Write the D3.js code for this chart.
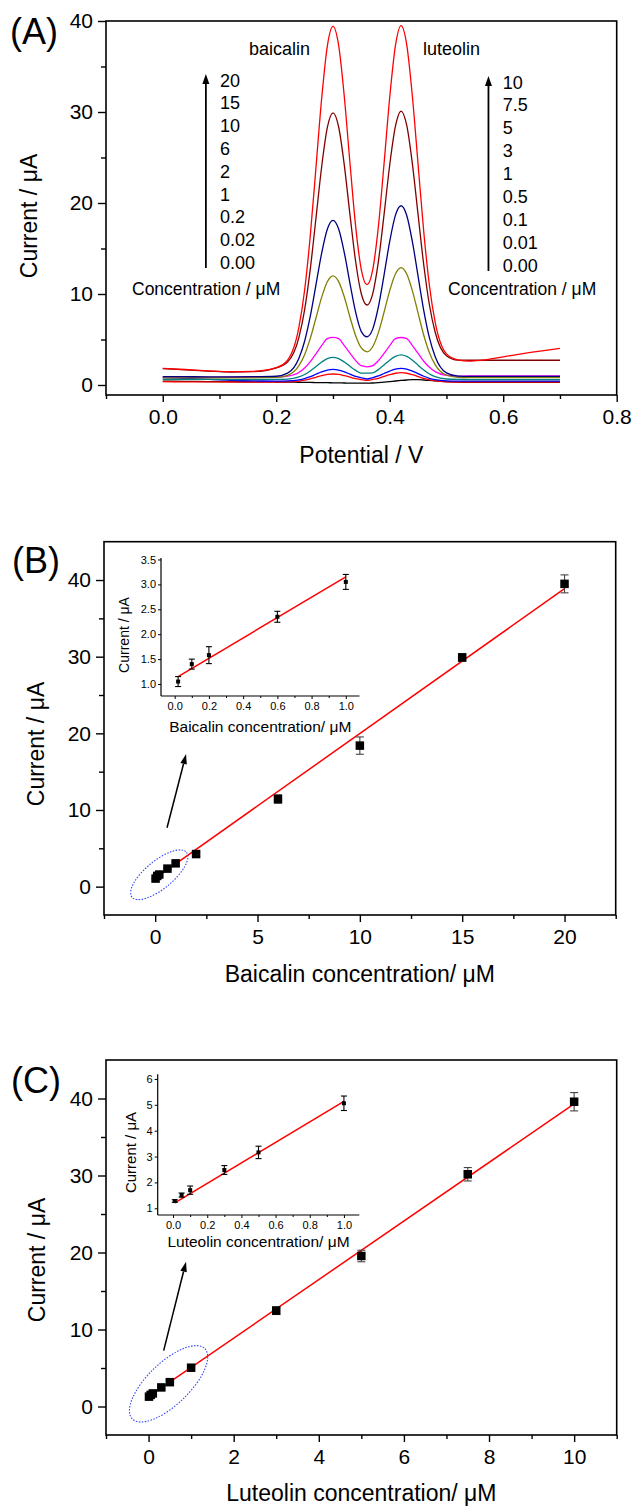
<!DOCTYPE html>
<html><head><meta charset="utf-8">
<script src="https://cdn.jsdelivr.net/npm/d3@7"></script>
<style>
body{margin:0;background:#fff}
text{font-family:"Liberation Sans",Arial,Helvetica,sans-serif;fill:#000}
</style></head>
<body><svg id="c" width="634" height="1507"></svg>
<script>
// ---------------- DATA ----------------
// Panel A: DPV curves (potential in V, current in µA)
const potential = [0.00,0.04,0.08,0.12,0.16,0.20,0.22,0.24,0.25,0.26,0.27,0.28,0.29,0.30,0.31,0.32,0.33,0.34,0.35,0.36,0.37,0.38,0.39,0.40,0.41,0.42,0.43,0.44,0.45,0.46,0.47,0.48,0.50,0.52,0.54,0.56,0.60,0.64,0.70];
const current_b000_l000 = [0.42,0.40,0.38,0.36,0.35,0.33,0.32,0.30,0.29,0.28,0.27,0.26,0.25,0.24,0.23,0.22,0.21,0.20,0.20,0.20,0.22,0.26,0.31,0.37,0.44,0.50,0.55,0.58,0.58,0.55,0.50,0.45,0.37,0.32,0.30,0.30,0.30,0.30,0.30];
const current_b002_l001 = [0.36,0.35,0.34,0.33,0.33,0.33,0.35,0.43,0.53,0.67,0.85,1.02,1.16,1.21,1.16,1.02,0.86,0.69,0.59,0.50,0.61,0.74,0.94,1.13,1.29,1.35,1.29,1.13,0.93,0.72,0.56,0.45,0.35,0.33,0.33,0.33,0.33,0.33,0.33];
const current_b02_l01 = [0.82,0.72,0.62,0.52,0.45,0.43,0.45,0.57,0.71,0.92,1.18,1.44,1.64,1.72,1.64,1.44,1.19,0.95,0.79,0.66,0.81,0.99,1.26,1.53,1.75,1.83,1.75,1.53,1.25,0.96,0.74,0.59,0.45,0.42,0.42,0.42,0.42,0.42,0.42];
const current_b1_l05 = [0.62,0.62,0.61,0.60,0.60,0.61,0.65,0.89,1.15,1.54,2.03,2.52,2.90,3.04,2.90,2.53,2.05,1.60,1.30,1.30,1.34,1.69,2.20,2.73,3.14,3.30,3.14,2.73,2.18,1.64,1.21,0.92,0.66,0.61,0.60,0.60,0.60,0.60,0.60];
const current_b2_l1 = [0.84,0.84,0.84,0.85,0.85,0.86,0.97,1.38,1.86,2.56,3.43,4.32,5.10,5.24,5.10,4.33,3.49,2.68,2.12,2.00,2.13,2.68,3.47,4.32,5.10,5.22,5.10,4.33,3.47,2.61,1.94,1.47,1.07,0.98,0.99,1.00,1.00,1.00,1.00];
const current_b6_l3 = [0.78,0.78,0.78,0.79,0.79,0.83,1.05,2.12,3.33,5.12,7.36,9.63,11.35,12.0,11.36,9.67,7.45,5.42,4.07,3.65,4.20,5.75,7.99,10.37,12.2,12.9,12.2,10.34,7.89,5.47,3.54,2.23,1.07,0.84,0.80,0.80,0.80,0.80,0.80];
const current_b10_l5 = [0.92,0.91,0.90,0.90,0.91,0.96,1.30,2.95,4.81,7.56,11.0,14.47,17.12,18.1,17.14,14.53,11.15,7.98,5.87,5.30,6.14,8.58,12.08,15.78,18.64,19.7,18.63,15.73,11.94,8.18,5.17,3.14,1.33,0.98,0.95,0.95,0.94,0.94,0.94];
const current_b15_l75 = [1.80,1.66,1.53,1.42,1.46,1.88,2.51,5.23,8.26,12.73,18.32,23.96,28.27,29.9,28.35,24.14,18.69,13.54,10.0,8.79,10.02,13.56,18.72,24.18,28.41,30.1,28.52,24.28,18.71,13.19,8.79,5.82,3.21,2.73,2.72,2.72,2.72,2.72,2.72];
const current_b20_l10 = [1.83,1.70,1.56,1.46,1.50,1.91,2.72,6.35,10.41,16.4,23.89,31.44,37.22,39.4,37.31,31.65,24.34,17.41,12.66,11.02,12.65,17.4,24.31,31.62,37.27,39.5,37.38,31.68,24.22,16.82,10.91,6.93,3.42,2.76,2.62,2.70,3.10,3.50,4.03];
const baicalinLevels = ["20","15","10","6","2","1","0.2","0.02","0.00"];
const luteolinLevels = ["10","7.5","5","3","1","0.5","0.1","0.01","0.00"];

// Panel B: baicalin calibration
const baicalinConc    = [0.02,0.1,0.2,0.6,1,2,6,10,15,20];
const baicalinCurrent = [1.05,1.40,1.58,2.35,3.04,4.25,11.43,18.4,29.9,39.5];
const baicalinError   = [0.10,0.10,0.17,0.11,0.15,0.30,0.55,1.13,0.50,1.17];
const baicalinFitX = [0,20];
const baicalinFitY = [1.08,38.88];
const baicalinInsetConc    = [0.02,0.1,0.2,0.6,1.0];
const baicalinInsetCurrent = [1.05,1.40,1.58,2.35,3.05];
const baicalinInsetError   = [0.10,0.10,0.17,0.11,0.15];
const baicalinInsetFitX = [0.02,1.0];
const baicalinInsetFitY = [1.15,3.15];

// Panel C: luteolin calibration
const luteolinConc    = [0.01,0.05,0.1,0.3,0.5,1,3,5,7.5,10];
const luteolinCurrent = [1.28,1.51,1.70,2.48,3.16,5.04,12.45,19.55,30.16,39.58];
const luteolinError   = [0.05,0.08,0.16,0.17,0.24,0.28,0.50,0.75,0.87,1.19];
const luteolinFitX = [0,10];
const luteolinFitY = [1.27,39.3];
const luteolinInsetConc    = [0.01,0.05,0.1,0.3,0.5,1.0];
const luteolinInsetCurrent = [1.28,1.51,1.70,2.48,3.16,5.06];
const luteolinInsetError   = [0.05,0.08,0.16,0.17,0.24,0.28];
const luteolinInsetFitX = [0.01,1.0];
const luteolinInsetFitY = [1.21,5.13];

// tick values
const aXMajor=[0,0.2,0.4,0.6,0.8], aXMinor=[-0.1,0.1,0.3,0.5,0.7];
const aYMajor=[0,10,20,30,40], aYMinor=[5,15,25,35];
const bXMajor=[0,5,10,15,20], bXMinor=[-2.5,2.5,7.5,12.5,17.5,22.5];
const cXMajor=[0,2,4,6,8,10], cXMinor=[-1,1,3,5,7,9,11];
const bcYMajor=[0,10,20,30,40], bcYMinor=[5,15,25,35];
const insXMajor=[0,0.2,0.4,0.6,0.8,1.0], insXMinor=[0.1,0.3,0.5,0.7,0.9];
const insBYMajor=[1.0,1.5,2.0,2.5,3.0,3.5];
const insCYMajor=[1,2,3,4,5,6];

// ---------------- DRAWING ----------------
const svg=d3.select("#c");
const curves=[current_b000_l000,current_b002_l001,current_b02_l01,current_b1_l05,current_b2_l1,current_b6_l3,current_b10_l5,current_b15_l75,current_b20_l10];
const curveColors=["#000000","#ff0000","#0000ff","#008080","#ff00ff","#808000","#000080","#800000","#ff0000"];

function styleAxis(sel,fs,sw){
  sel.select(".domain").remove();
  sel.selectAll("line").attr("stroke","#000").attr("stroke-width",sw);
  sel.selectAll("text").attr("font-size",fs).attr("fill","#000").attr("font-family",null);
}

function mainPanel(p){
  const x=d3.scaleLinear().domain(p.xDomain).range([p.left,p.right]);
  const y=d3.scaleLinear().domain(p.yDomain).range([p.bottom,p.top]);
  const g=svg.append("g");
  g.append("g").attr("transform",`translate(0,${p.bottom})`)
    .call(d3.axisBottom(x).tickValues(p.xMinor).tickSize(4).tickFormat(""))
    .call(s=>styleAxis(s,21,1.4));
  g.append("g").attr("transform",`translate(0,${p.bottom})`)
    .call(d3.axisBottom(x).tickValues(p.xMajor).tickSize(7).tickPadding(7).tickFormat(p.fmtX))
    .call(s=>styleAxis(s,21,1.4));
  g.append("g").attr("transform",`translate(${p.left},0)`)
    .call(d3.axisLeft(y).tickValues(p.yMinor).tickSize(5).tickFormat(""))
    .call(s=>styleAxis(s,21,1.4));
  g.append("g").attr("transform",`translate(${p.left},0)`)
    .call(d3.axisLeft(y).tickValues(p.yMajor).tickSize(8).tickPadding(5).tickFormat(d3.format("d")))
    .call(s=>styleAxis(s,21,1.4));
  g.append("rect").attr("x",p.left).attr("y",p.top).attr("width",p.right-p.left).attr("height",p.bottom-p.top)
    .attr("fill","none").attr("stroke","#000").attr("stroke-width",1.6);
  g.append("text").attr("x",(p.left+p.right)/2).attr("y",p.xTitleY).attr("text-anchor","middle")
    .attr("font-size",23).text(p.xTitle);
  g.append("text").attr("transform",`translate(${p.yTitleX},${p.yTitleY}) rotate(-90)`).attr("text-anchor","middle")
    .attr("font-size",23).text("Current / μA");
  g.append("text").attr("x",p.tagX).attr("y",p.tagY).attr("font-size",36).text(p.tag);
  return {x,y,g};
}

function insetPanel(p){
  const x=d3.scaleLinear().domain(p.xDomain).range([p.left,p.right]);
  const y=d3.scaleLinear().domain(p.yDomain).range([p.bottom,p.top]);
  const g=svg.append("g");
  g.append("g").attr("transform",`translate(0,${p.bottom})`)
    .call(d3.axisBottom(x).tickValues(insXMinor).tickSize(2).tickFormat(""))
    .call(s=>styleAxis(s,11,1));
  g.append("g").attr("transform",`translate(0,${p.bottom})`)
    .call(d3.axisBottom(x).tickValues(insXMajor).tickSize(3).tickPadding(3).tickFormat(d3.format(".1f")))
    .call(s=>styleAxis(s,11,1));
  g.append("g").attr("transform",`translate(${p.left},0)`)
    .call(d3.axisLeft(y).tickValues(p.yMajor).tickSize(3).tickPadding(2).tickFormat(p.fmtY))
    .call(s=>styleAxis(s,11,1));
  g.selectAll("g text").attr("fill","#222");
  g.append("line").attr("x1",p.left).attr("x2",p.right).attr("y1",p.bottom).attr("y2",p.bottom).attr("stroke","#000").attr("stroke-width",1.2);
  g.append("line").attr("x1",p.left).attr("x2",p.left).attr("y1",p.bottom).attr("y2",p.top).attr("stroke","#000").attr("stroke-width",1.2);
  g.append("text").attr("x",(p.left+p.right)/2).attr("y",p.xTitleY).attr("text-anchor","middle")
    .attr("font-size",15.5).attr("fill","#111").text(p.xTitle);
  g.append("text").attr("transform",`translate(${p.yTitleX},${p.yTitleY}) rotate(-90)`).attr("text-anchor","middle")
    .attr("font-size",p.yTitleSize).attr("fill","#111").text("Current / μA");
  return {x,y,g};
}

function arrow(g,x1,y1,x2,y2,len,hw,sw){
  const a=Math.atan2(y2-y1,x2-x1);
  const bx=x2-len*Math.cos(a), by=y2-len*Math.sin(a);
  g.append("line").attr("x1",x1).attr("y1",y1).attr("x2",bx).attr("y2",by).attr("stroke","#000").attr("stroke-width",sw);
  const px=-Math.sin(a)*hw, py=Math.cos(a)*hw;
  g.append("path").attr("d",`M${x2},${y2}L${bx+px},${by+py}L${bx-px},${by-py}Z`).attr("fill","#000");
}

function scatter(g,x,y,xs,ys,es,size,cap,ecol){
  const eg=g.append("g").attr("stroke",ecol).attr("stroke-width",1.1);
  xs.forEach((c,i)=>{
    const cx=x(c), y1=y(ys[i]-es[i]), y2=y(ys[i]+es[i]);
    eg.append("line").attr("x1",cx).attr("x2",cx).attr("y1",y1).attr("y2",y2);
    eg.append("line").attr("x1",cx-cap/2).attr("x2",cx+cap/2).attr("y1",y1).attr("y2",y1);
    eg.append("line").attr("x1",cx-cap/2).attr("x2",cx+cap/2).attr("y1",y2).attr("y2",y2);
  });
  g.append("g").selectAll("rect").data(xs).join("rect")
    .attr("x",(d)=>x(d)-size/2).attr("y",(d,i)=>y(ys[i])-size/2)
    .attr("width",size).attr("height",size).attr("fill","#000");
}

function fitLine(g,x,y,fx,fy,sw){
  g.append("path").datum(fx.map((v,i)=>[v,fy[i]]))
    .attr("d",d3.line().x(d=>x(d[0])).y(d=>y(d[1])))
    .attr("fill","none").attr("stroke","#ff0000").attr("stroke-width",sw);
}

// ---------- Panel A ----------
const A=mainPanel({left:106,right:616.7,top:21,bottom:395,xDomain:[-0.1,0.8],yDomain:[-1.1,40],
  xMajor:aXMajor,xMinor:aXMinor,yMajor:aYMajor,yMinor:aYMinor,fmtX:d3.format(".1f"),
  xTitle:"Potential / V",xTitleY:463,yTitleX:36.5,yTitleY:216,tag:"(A)",tagX:10,tagY:44});
const lineA=d3.line().x((d,i)=>A.x(potential[i])).y(d=>A.y(d)).curve(d3.curveMonotoneX);
A.g.append("g").selectAll("path").data(curves).join("path")
  .attr("d",d=>lineA(d)).attr("fill","none").attr("stroke",(d,i)=>curveColors[i]).attr("stroke-width",1.3);
// legend
A.g.append("text").attr("x",249).attr("y",55).attr("font-size",18).text("baicalin");
A.g.append("text").attr("x",423).attr("y",55).attr("font-size",18).text("luteolin");
arrow(A.g,A.x(0.076),A.y(12.86),A.x(0.076),A.y(34.18),10,3.5,1.8);
arrow(A.g,A.x(0.574),A.y(12.53),A.x(0.574),A.y(33.96),10,3.5,1.8);
A.g.append("g").selectAll("text").data(baicalinLevels).join("text")
  .attr("x",220).attr("y",(d,i)=>86.5+i*22.8).attr("font-size",18).text(d=>d);
A.g.append("g").selectAll("text").data(luteolinLevels).join("text")
  .attr("x",502.7).attr("y",(d,i)=>88.5+i*22.9).attr("font-size",18).text(d=>d);
A.g.append("text").attr("x",132).attr("y",295).attr("font-size",17.5).text("Concentration / μM");
A.g.append("text").attr("x",448).attr("y",295).attr("font-size",17.5).text("Concentration / μM");

// ---------- Panel B ----------
const B=mainPanel({left:104,right:615.7,top:541.7,bottom:915,xDomain:[-2.5,22.5],yDomain:[-3.7,45],
  xMajor:bXMajor,xMinor:bXMinor,yMajor:bcYMajor,yMinor:bcYMinor,fmtX:d3.format("d"),
  xTitle:"Baicalin concentration/ μM",xTitleY:982,yTitleX:43.5,yTitleY:744,tag:"(B)",tagX:12,tagY:573});
const BI=insetPanel({left:161,right:359.5,top:558,bottom:696,xDomain:[-0.08,1.08],yDomain:[0.76,3.53],
  yMajor:insBYMajor,fmtY:d3.format(".1f"),xTitle:"Baicalin concentration/ μM",xTitleY:732,yTitleX:128.5,yTitleY:635,yTitleSize:14});
fitLine(BI.g,BI.x,BI.y,baicalinInsetFitX,baicalinInsetFitY,1.5);
scatter(BI.g,BI.x,BI.y,baicalinInsetConc,baicalinInsetCurrent,baicalinInsetError,4,6,"#000");
fitLine(B.g,B.x,B.y,baicalinFitX,baicalinFitY,1.5);
scatter(B.g,B.x,B.y,baicalinConc,baicalinCurrent,baicalinError,8.5,8,"#444");
B.g.append("ellipse").attr("transform",`translate(${B.x(0.2)},${B.y(1.55)}) rotate(-39.5)`)
  .attr("rx",35.3).attr("ry",13.9).attr("fill","none").attr("stroke","#3344ff").attr("stroke-width",1.1).attr("stroke-dasharray","1.5,1.5");
arrow(B.g,B.x(0.58),B.y(7.68),B.x(1.51),B.y(17.3),10,3.3,1.5);

// ---------- Panel C ----------
const C=mainPanel({left:106,right:616.7,top:1060,bottom:1435,xDomain:[-1,11],yDomain:[-3.7,45],
  xMajor:cXMajor,xMinor:cXMinor,yMajor:bcYMajor,yMinor:bcYMinor,fmtX:d3.format("d"),
  xTitle:"Luteolin concentration/ μM",xTitleY:1501,yTitleX:44.5,yTitleY:1260,tag:"(C)",tagX:11,tagY:1093});
const CI=insetPanel({left:157.7,right:359.3,top:1074.3,bottom:1215,xDomain:[-0.09,1.09],yDomain:[0.74,6.18],
  yMajor:insCYMajor,fmtY:d3.format("d"),xTitle:"Luteolin concentration/ μM",xTitleY:1247,yTitleX:135.5,yTitleY:1152.5,yTitleSize:15});
fitLine(CI.g,CI.x,CI.y,luteolinInsetFitX,luteolinInsetFitY,1.5);
scatter(CI.g,CI.x,CI.y,luteolinInsetConc,luteolinInsetCurrent,luteolinInsetError,4,6,"#000");
fitLine(C.g,C.x,C.y,luteolinFitX,luteolinFitY,1.5);
scatter(C.g,C.x,C.y,luteolinConc,luteolinCurrent,luteolinError,8.5,8,"#444");
C.g.append("ellipse").attr("transform",`translate(${C.x(0.47)},${C.y(2.95)}) rotate(-44)`)
  .attr("rx",50.5).attr("ry",21).attr("fill","none").attr("stroke","#3344ff").attr("stroke-width",1.1).attr("stroke-dasharray","1.5,1.5");
arrow(C.g,C.x(0.355),C.y(7.25),C.x(0.88),C.y(18.8),10,3.3,1.5);
</script></body></html>
